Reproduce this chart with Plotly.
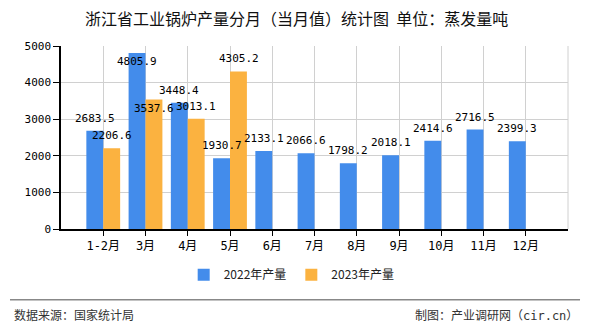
import plotly.graph_objects as go

categories = ["1-2月", "3月", "4月", "5月", "6月", "7月", "8月", "9月", "10月", "11月", "12月"]
values_2022 = [2683.5, 4805.9, 3448.4, 1930.7, 2133.1, 2066.6, 1798.2, 2018.1, 2414.6, 2716.5, 2399.3]
values_2023 = [2206.6, 3537.6, 3013.1, 4305.2]
series_names = ["2022年产量", "2023年产量"]
y_ticks = [0, 1000, 2000, 3000, 4000, 5000]

title_text = "浙江省工业锅炉产量分月（当月值）统计图&nbsp;&nbsp;单位：蒸发量吨"
source_text = "数据来源：国家统计局"
credit_text = "制图：产业调研网（cir.cn）"

BLUE = "#438CEB"
ORANGE = "#FBB240"
MONO = "DejaVu Sans Mono, Noto Sans CJK SC, sans-serif"
CJK = "Noto Sans CJK SC, sans-serif"

# label offsets (px); a couple of labels were moved by the original renderer
label_shift_default = 12.5
label_shift_override = {(0, 1): -8, (1, 1): -9}
bar_offset_px = 8.5

fig = go.Figure()
fig.add_trace(go.Bar(name=series_names[0], x=categories, y=values_2022,
                     marker=dict(color=BLUE, line=dict(width=0))))
fig.add_trace(go.Bar(name=series_names[1], x=categories[:len(values_2023)], y=values_2023,
                     marker=dict(color=ORANGE, line=dict(width=0))))

for s, vals in enumerate([values_2022, values_2023]):
    for i, v in enumerate(vals):
        fig.add_annotation(x=categories[i], y=v, xref="x", yref="y",
                           text=f"{v:.1f}", showarrow=False,
                           xshift=(-bar_offset_px if s == 0 else bar_offset_px),
                           yshift=label_shift_override.get((s, i), label_shift_default),
                           yanchor="middle", xanchor="center",
                           font=dict(family=MONO, size=11, color="#000"))

fig.add_annotation(x=0.465, y=1, xref="paper", yref="paper", yshift=28, text=title_text,
                   showarrow=False, font=dict(family=CJK, size=16, color="#111"),
                   xanchor="center", yanchor="middle")
fig.add_annotation(x=-0.0966, y=-0.473, xref="paper", yref="paper", text=source_text,
                   showarrow=False, font=dict(family=MONO, size=12, color="#333"),
                   xanchor="left", yanchor="middle")
fig.add_annotation(x=1.0237, y=-0.473, xref="paper", yref="paper", text=credit_text,
                   showarrow=False, font=dict(family=MONO, size=12, color="#333"),
                   xanchor="right", yanchor="middle")

fig.add_shape(type="line", xref="paper", yref="paper", x0=-0.1006, x1=1.0237,
              y0=-0.386, y1=-0.386, line=dict(color="#888", width=1.5))
fig.add_shape(type="line", xref="paper", yref="paper", x0=1, x1=1, y0=0, y1=1,
              line=dict(color="#d0d0d0", width=1))

fig.update_layout(
    width=590, height=330,
    margin=dict(l=61, r=22, t=46, b=101),
    paper_bgcolor="white", plot_bgcolor="white",
    barmode="group", bargap=0.2, bargroupgap=0,
    showlegend=True,
    legend=dict(orientation="h", x=0.455, y=-0.25, xanchor="center", yanchor="middle",
                font=dict(family=CJK, size=12, color="#222"), itemwidth=30,
                bgcolor="rgba(0,0,0,0)"),
    xaxis=dict(type="category", range=[-1, len(categories)], showgrid=True,
               gridcolor="#d0d0d0", gridwidth=1, showline=True, linecolor="#000",
               linewidth=1.5, ticks="outside", ticklen=5, tickcolor="#000",
               tickfont=dict(family=MONO, size=12, color="#000"), zeroline=False),
    yaxis=dict(range=[0, 5000], tickvals=y_ticks, showgrid=True, gridcolor="#d0d0d0",
               gridwidth=1, showline=True, linecolor="#000", linewidth=1.5,
               ticks="outside", ticklen=6, tickcolor="#000",
               tickfont=dict(family=MONO, size=11, color="#000"), zeroline=False),
)

fig.write_html("out.html")
